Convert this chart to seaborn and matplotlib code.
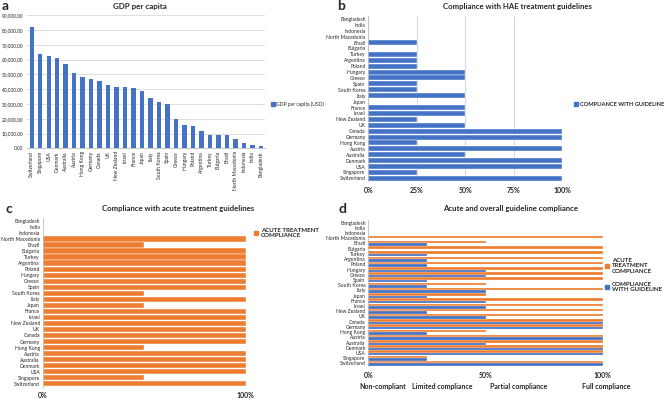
import pandas as pd
import matplotlib
matplotlib.use('Agg')
import matplotlib.pyplot as plt
from matplotlib.patches import Patch
from matplotlib.ticker import FuncFormatter
import seaborn as sns

# countries in GDP order (left to right in panel a, bottom to top in b-d)
countries = ['Switzerland', 'Singapore', 'USA', 'Denmark', 'Australia', 'Austria', 'Hong Kong',
             'Germany', 'Canada', 'UK', 'New Zealand', 'Israel', 'France', 'Japan', 'Italy',
             'South Korea', 'Spain', 'Greece', 'Hungary', 'Poland', 'Argentina', 'Turkey',
             'Bulgaria', 'Brazil', 'North Macedonia', 'Indonesia', 'India', 'Bangladesh']
gdp_usd = [82000, 63800, 62200, 61000, 56900, 51000, 48300, 47200, 45800, 42700, 41400, 41300,
           41000, 39000, 34000, 31100, 30000, 20000, 16000, 15300, 11500, 9200, 9100, 8800,
           6100, 3700, 1900, 1800]
guideline_b = [100, 25, 100, 100, 50, 100, 25, 100, 100, 50, 25, 50, 50, 0, 50, 25, 25, 50, 50,
               25, 25, 25, 0, 25, 0, 0, 0, 0]
acute_c = [100, 50, 100, 100, 100, 100, 50, 100, 100, 100, 100, 100, 100, 50, 100, 50, 100, 100,
           100, 100, 100, 100, 100, 50, 100, 0, 0, 0]
guideline_d = [100, 25, 100, 100, 50, 100, 25, 100, 100, 50, 25, 50, 50, 25, 50, 25, 25, 50, 50,
               25, 25, 25, 0, 25, 0, 0, 0, 0]
acute_d = [100, 25, 100, 100, 100, 100, 50, 100, 100, 100, 100, 100, 100, 50, 100, 50, 100, 100,
           100, 100, 100, 100, 100, 50, 100, 0, 0, 0]
compliance_levels = ['Non-compliant', 'Limited compliance', 'Partial compliance', 'Full compliance']

sns.set_theme(style='white')
plt.rcParams['font.family'] = ['Lato', 'DejaVu Sans']

BLUE = '#4472C4'
ORANGE = '#ED7D31'
GRID = '#d9d9d9'
W, H = 669, 401

fig = plt.figure(figsize=(6.69, 4.01), dpi=100)


def box(x0, y0, x1, y1):
    # axes from pixel corners (top-left origin)
    return fig.add_axes([x0 / W, 1 - y1 / H, (x1 - x0) / W, (y1 - y0) / H])


def ftext(x, y, s, **kw):
    fig.text(x / W, 1 - y / H, s, **kw)


def legend_at(ax, handles, x, y, size):
    ax.legend(handles=handles, loc='center left', bbox_to_anchor=(x / W, 1 - y / H),
              bbox_transform=fig.transFigure, frameon=False, handlelength=0.7, handleheight=0.7,
              handletextpad=0.4, labelspacing=1.2, borderaxespad=0, borderpad=0,
              prop={'size': size, 'weight': 'bold'})


def style_hbar(ax):
    for s in ['top', 'right', 'bottom']:
        ax.spines[s].set_visible(False)
    ax.spines['left'].set_color('#bfbfbf')
    ax.spines['left'].set_linewidth(0.6)
    ax.set_xlabel('')
    ax.set_ylabel('')
    ax.tick_params(axis='y', length=0, pad=2, labelsize=3.6)
    ax.tick_params(axis='x', length=0, pad=4, labelsize=5)
    for t in ax.get_xticklabels():
        t.set_fontweight('bold')


pct = FuncFormatter(lambda v, p: f'{v:.0f}%')

# ---------------- a: GDP per capita ----------------
df_gdp = pd.DataFrame({'country': countries, 'gdp': gdp_usd})
ax = box(27.4, 15.3, 265.2, 148.3)
sns.barplot(data=df_gdp, x='country', y='gdp', color=BLUE, saturation=1, width=0.5,
            linewidth=0, ax=ax)
ax.set_ylim(0, 90000)
ax.set_yticks(range(0, 90001, 10000))
ax.yaxis.set_major_formatter(FuncFormatter(lambda v, p: f'{v:,.2f}'))
ax.grid(axis='y', color=GRID, lw=0.6)
ax.set_axisbelow(True)
for s in ['top', 'right', 'left']:
    ax.spines[s].set_visible(False)
ax.spines['bottom'].set_color('#bfbfbf')
ax.spines['bottom'].set_linewidth(0.6)
ax.set_xlabel('')
ax.set_ylabel('')
ax.tick_params(axis='y', length=0, pad=3, labelsize=3.4)
ax.tick_params(axis='x', length=0, pad=2, labelsize=3.6, rotation=90)
legend_at(ax, [Patch(color=BLUE, label='GDP per capita (USD)')], 271, 104, 3.6)
for t in ax.get_legend().get_texts():
    t.set_fontweight('normal')
ftext(140, 7, 'GDP per capita', ha='center', va='center', fontsize=5.8, fontweight='bold')
ftext(2, 6, 'a', ha='left', va='center', fontsize=10, fontweight='bold')

# ---------------- b: compliance with guideline ----------------
df_b = pd.DataFrame({'country': countries, 'value': guideline_b})
ax = box(368.3, 16, 562.3, 181.3)
sns.barplot(data=df_b, y='country', x='value', order=countries[::-1], color=BLUE,
            saturation=1, width=0.85, linewidth=0.3, edgecolor='white', ax=ax)
ax.set_xlim(0, 100)
ax.set_xticks([0, 25, 50, 75, 100])
ax.xaxis.set_major_formatter(pct)
ax.grid(axis='x', color=GRID, lw=0.8)
ax.set_axisbelow(True)
style_hbar(ax)
legend_at(ax, [Patch(color=BLUE, label='COMPLIANCE WITH GUIDELINE')], 574, 104, 4.1)
ftext(517, 6, 'Compliance with HAE treatment guidelines', ha='center', va='center',
      fontsize=5.6, fontweight='bold')
ftext(337, 6, 'b', ha='left', va='center', fontsize=10, fontweight='bold')

# ---------------- c: acute compliance ----------------
df_c = pd.DataFrame({'country': countries, 'value': acute_c})
ax = box(42.7, 218, 245.7, 386.7)
sns.barplot(data=df_c, y='country', x='value', order=countries[::-1], color=ORANGE,
            saturation=1, width=0.9, linewidth=0.3, edgecolor='white', ax=ax)
ax.set_xlim(0, 100)
ax.set_xticks([0, 100])
ax.xaxis.set_major_formatter(pct)
style_hbar(ax)
legend_at(ax, [Patch(color=ORANGE, label='ACUTE TREATMENT\nCOMPLIANCE')], 254, 233, 4.4)
ftext(178, 209, 'Compliance with acute treatment guidelines', ha='center', va='center',
      fontsize=5.6, fontweight='bold')
ftext(6, 209, 'c', ha='left', va='center', fontsize=10, fontweight='bold')

# ---------------- d: acute and overall ----------------
lab_acute = 'ACUTE\nTREATMENT\nCOMPLIANCE'
lab_guide = 'COMPLIANCE\nWITH GUIDELINE'
df_d = pd.concat([
    pd.DataFrame({'country': countries, 'value': acute_d, 'series': lab_acute}),
    pd.DataFrame({'country': countries, 'value': guideline_d, 'series': lab_guide}),
], ignore_index=True)
ax = box(368.3, 220, 602.7, 366)
sns.barplot(data=df_d, y='country', x='value', hue='series', order=countries[::-1],
            hue_order=[lab_acute, lab_guide], palette=[ORANGE, BLUE], saturation=1,
            width=0.95, linewidth=0.2, edgecolor='white', ax=ax)
ax.set_xlim(0, 100)
ax.set_xticks([0, 50, 100])
ax.xaxis.set_major_formatter(pct)
style_hbar(ax)
ax.get_legend().remove()
legend_at(ax, [Patch(color=ORANGE, label=lab_acute), Patch(color=BLUE, label=lab_guide)],
          605, 275, 4.4)
for x, s in zip([383, 442, 519, 606], compliance_levels):
    ftext(x, 386, s, ha='center', va='center', fontsize=5.0, fontweight='bold')
ftext(511, 209, 'Acute and overall guideline compliance', ha='center', va='center',
      fontsize=5.6, fontweight='bold')
ftext(338, 209, 'd', ha='left', va='center', fontsize=10, fontweight='bold')

fig.savefig('out.png', dpi=100)
